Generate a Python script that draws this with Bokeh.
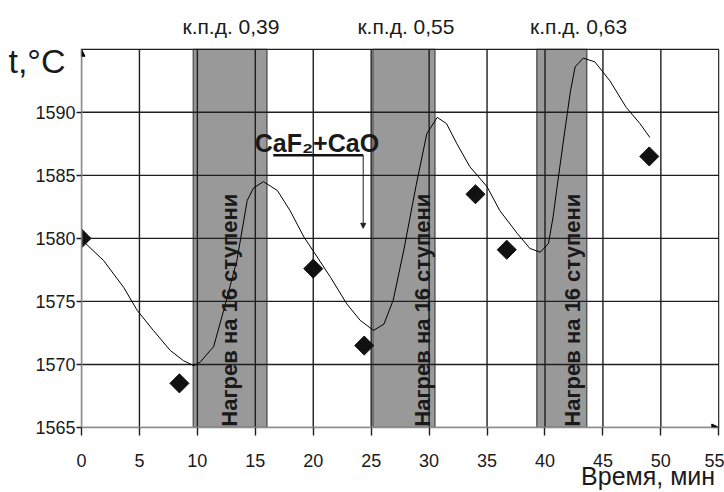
import math
from bokeh.plotting import figure
from bokeh.models import Label, Arrow, NormalHead, FixedTicker, Range1d, LinearAxis
from bokeh.embed import file_html
from bokeh.resources import INLINE

# ---- data ----
curve_t = [0.0, 1.9, 3.65, 4.8, 6.2, 7.67, 8.8, 9.7, 10.26, 11.1, 11.4, 12.27, 13.4,
           14.3, 14.85, 15.7, 16.9, 18.0, 19.2, 20.0, 21.5, 22.9, 24.05, 25.2, 26.1,
           26.9, 27.8, 28.9, 29.8, 30.7, 31.5, 32.4, 33.5, 35.0, 36.1, 37.6, 38.7,
           39.6, 40.3, 40.7, 41.0, 41.6, 42.2, 42.6, 43.3, 44.3, 45.6, 47.0, 48.2, 49.05]
curve_temp = [1579.9, 1578.25, 1576.1, 1574.3, 1572.7, 1571.1, 1570.3, 1569.9, 1570.2,
              1571.1, 1571.4, 1574.3, 1578.2, 1583.0, 1584.0, 1584.5, 1583.8, 1582.2,
              1580.1, 1579.0, 1576.9, 1574.8, 1573.5, 1572.7, 1573.2, 1575.1, 1579.0,
              1584.3, 1588.3, 1589.6, 1589.1, 1587.5, 1585.7, 1584.1, 1582.2, 1580.4,
              1579.2, 1578.9, 1579.6, 1581.7, 1583.8, 1587.8, 1591.7, 1593.6, 1594.3,
              1594.0, 1592.5, 1590.4, 1589.1, 1588.0]

meas_t = [0.0, 8.45, 20.0, 24.4, 34.0, 36.7, 49.0]
meas_temp = [1580.0, 1568.5, 1577.6, 1571.5, 1583.5, 1579.1, 1586.5]

heat_start = [9.65, 25.15, 39.3]
heat_end = [16.0, 30.5, 43.6]
heat_label = "Нагрев на 16 ступени"
heat_label_x = [12.76, 29.4, 42.4]
heat_label_y = 1574.3

kpd_labels = ["к.п.д. 0,39", "к.п.д. 0,55", "к.п.д. 0,63"]
kpd_x = [12.9, 28.0, 42.9]

x_ticks = [0, 5, 10, 15, 20, 25, 30, 35, 40, 45, 50, 55]
y_ticks = [1565, 1570, 1575, 1580, 1585, 1590]
y_grid = [1570, 1575, 1580, 1585, 1590, 1595]

x_title, x_title_pos = "Время, мин", 48.9
y_title, y_title_pos = "t,°C", 1594.1

X_MIN, X_MAX = 0, 55
Y_MIN, Y_MAX = 1565, 1595

# annotation "CaF2+CaO"
ann_text = "CaF\u2082+CaO"
ann_x, ann_y = 14.95, 1587.6
ann_line_x0, ann_line_x1, ann_line_y = 16.55, 24.31, 1586.6
ann_arrow_y_end = 1580.8

FONT = "Liberation Sans"
INK = "#1a1a1a"

p = figure(width=724, height=492,
           x_range=Range1d(X_MIN, X_MAX + 0.06), y_range=Range1d(Y_MIN, Y_MAX + 0.06),
           output_backend="svg", toolbar_location=None,
           min_border_left=81, min_border_right=5, min_border_top=48, min_border_bottom=65)
p.outline_line_color = None
p.background_fill_color = "white"
p.border_fill_color = "white"
p.xgrid.visible = False
p.ygrid.visible = False

# heating zones
p.quad(left=heat_start, right=heat_end, bottom=Y_MIN, top=Y_MAX,
       fill_color="#999999", line_color="#5a5a5a", line_width=1.5)

# grid lines (drawn above zones)
vx = [x for x in x_ticks if x > X_MIN]
p.segment(x0=vx, x1=vx, y0=[Y_MIN] * len(vx), y1=[Y_MAX] * len(vx),
          line_color="#1e1e1e", line_width=1.4)
p.segment(x0=[X_MIN] * len(y_grid), x1=[X_MAX] * len(y_grid), y0=y_grid, y1=y_grid,
          line_color="#1e1e1e", line_width=1.4)

# curve and measured points
p.line(curve_t, curve_temp, line_color="black", line_width=1)
p.scatter(meas_t, meas_temp, marker="square", angle=math.pi / 4, size=13.5,
          fill_color="#111111", line_color="#111111")

# main axes
for ax in (p.xaxis[0], p.yaxis[0]):
    ax.axis_line_color = "#8c8c8c"
    ax.axis_line_width = 1.5
    ax.major_tick_line_color = "#1e1e1e"
    ax.major_tick_line_width = 1.4
    ax.major_tick_in = 0
    ax.minor_tick_line_color = None
    ax.major_label_text_font = FONT
    ax.major_label_text_font_size = "18px"
    ax.major_label_text_color = INK
p.xaxis[0].ticker = FixedTicker(ticks=x_ticks)
p.yaxis[0].ticker = FixedTicker(ticks=y_ticks)
p.xaxis[0].major_tick_out = 8
p.xaxis[0].major_label_standoff = 18
p.yaxis[0].major_tick_out = 5
p.yaxis[0].major_label_standoff = 1


def text_axis(ticks, labels, size, standoff, style="normal"):
    return LinearAxis(ticker=FixedTicker(ticks=ticks),
                      major_label_overrides=dict(zip(ticks, labels)),
                      axis_line_color=None, major_tick_line_color=None,
                      minor_tick_line_color=None, major_tick_out=0, major_tick_in=0,
                      major_label_standoff=standoff, major_label_text_font=FONT,
                      major_label_text_font_size=size, major_label_text_color=INK,
                      major_label_text_font_style=style)


# efficiency labels on top
p.add_layout(text_axis(kpd_x, kpd_labels, "21px", 11), "above")
# axis titles
p.add_layout(text_axis([x_title_pos], [x_title], "25px", -8), "below")
p.add_layout(text_axis([y_title_pos], [y_title], "34px", -33), "left")

# axis arrows
p.add_layout(Arrow(x_start=X_MIN, y_start=Y_MIN, x_end=X_MIN, y_end=Y_MAX,
                   line_color="#8c8c8c", line_width=1.5,
                   end=NormalHead(size=7, fill_color="black", line_color="black")))
p.add_layout(Arrow(x_start=X_MIN, y_start=Y_MIN, x_end=X_MAX, y_end=Y_MIN,
                   line_color="#8c8c8c", line_width=1.5,
                   end=NormalHead(size=7, fill_color="black", line_color="black")))

# rotated labels in zones
for lx in heat_label_x:
    p.add_layout(Label(x=lx, y=heat_label_y, text=heat_label, angle=math.pi / 2,
                       text_align="center", text_baseline="middle",
                       text_font=FONT, text_font_style="bold", text_font_size="22px",
                       text_color=INK))

# CaF2+CaO annotation
p.add_layout(Label(x=ann_x, y=ann_y, text=ann_text, text_align="left",
                   text_baseline="alphabetic", text_font=FONT, text_font_style="bold",
                   text_font_size="25px", text_color=INK))
p.segment(x0=[ann_line_x0], x1=[ann_line_x1], y0=[ann_line_y], y1=[ann_line_y],
          line_color="#111111", line_width=2.5)
p.add_layout(Arrow(x_start=ann_line_x1, y_start=ann_line_y, x_end=ann_line_x1,
                   y_end=ann_arrow_y_end, line_color="#222222", line_width=1,
                   end=NormalHead(size=5, fill_color="#222222", line_color="#222222")))

open("out.html", "w").write(file_html(p, INLINE))
